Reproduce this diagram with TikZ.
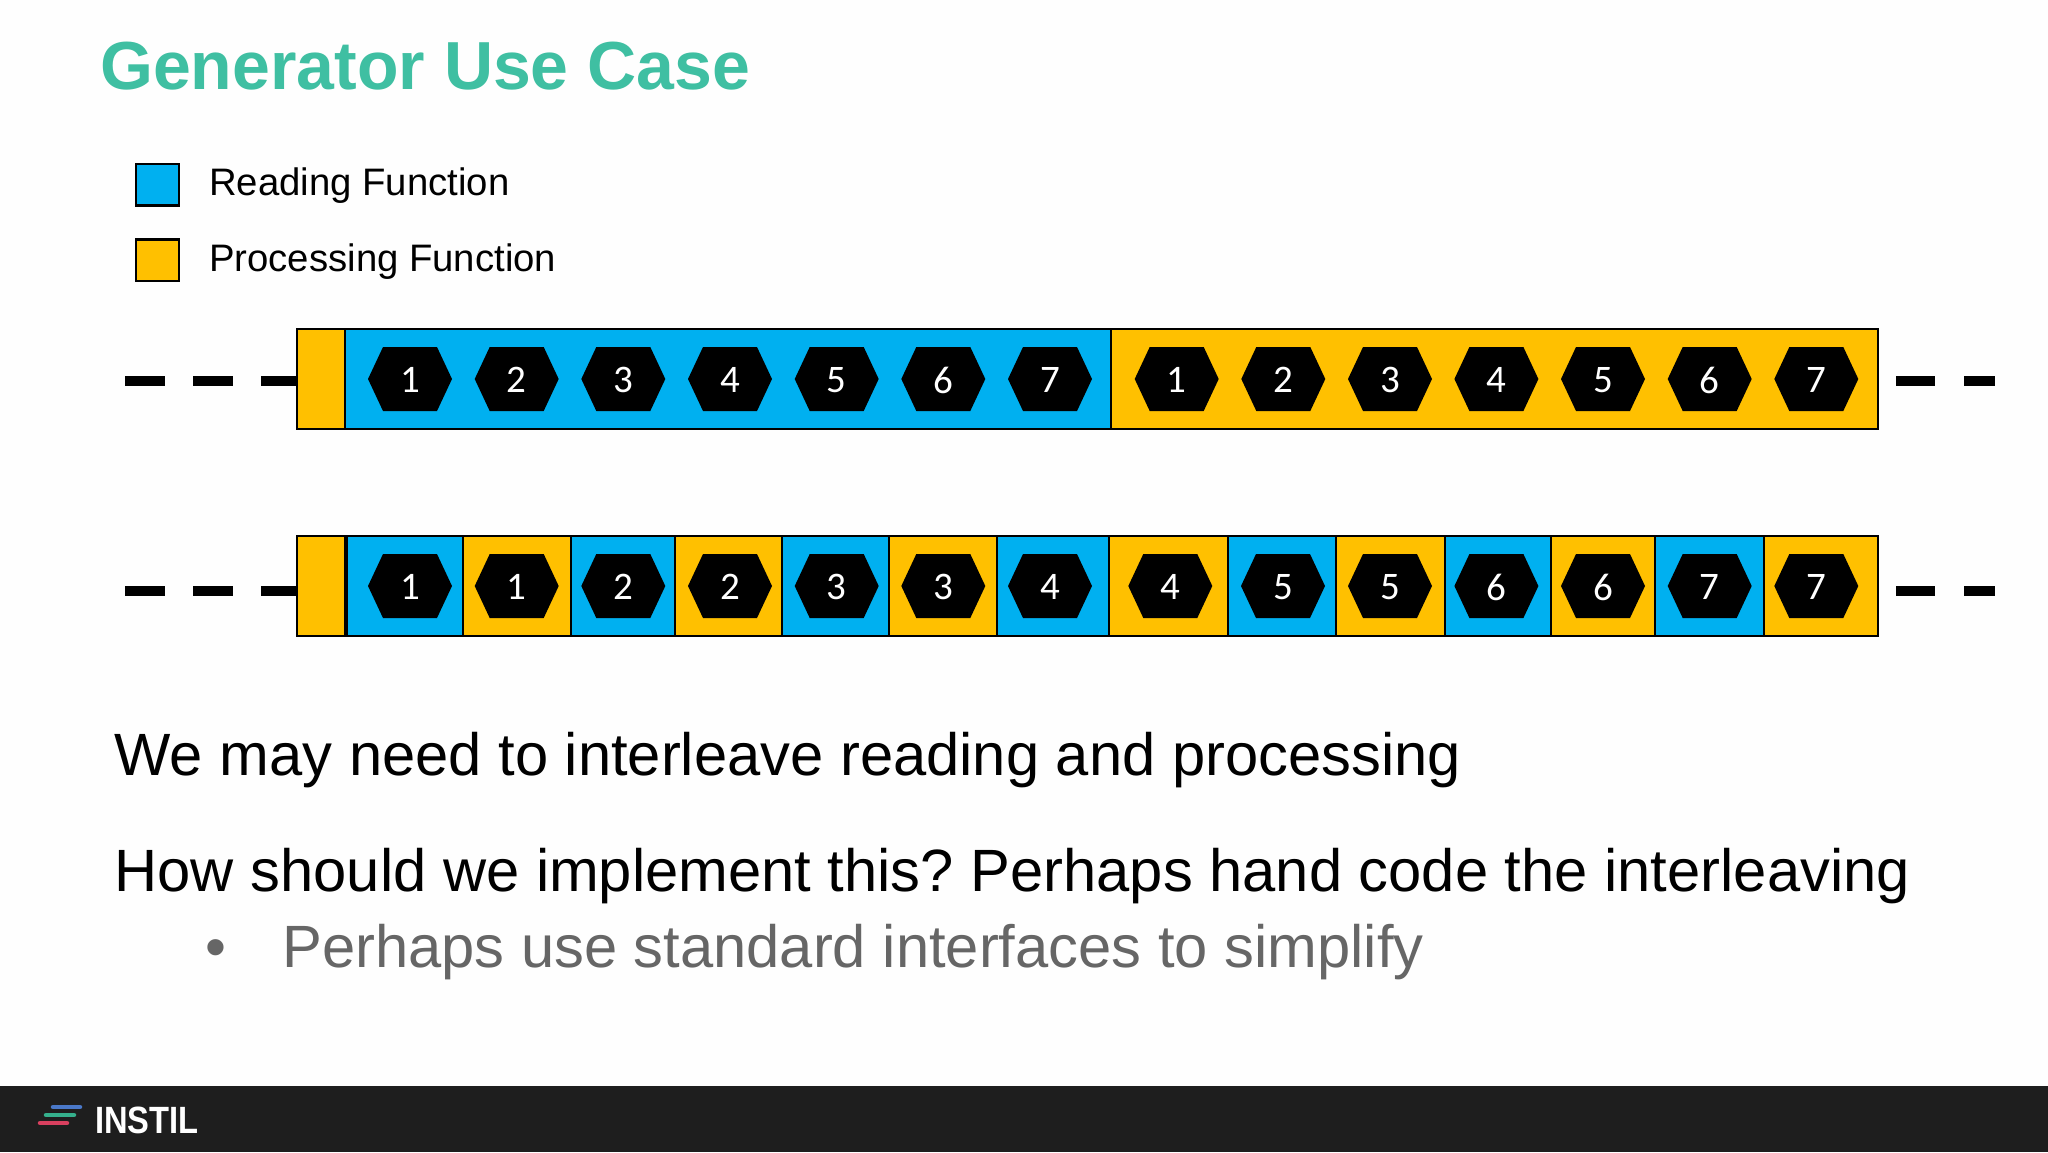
\documentclass[tikz,border=0pt]{standalone}
\usepackage{fontspec}
\setmainfont{Liberation Sans}
\newfontfamily\digitfont{Carlito}
\frenchspacing
\definecolor{rblue}{HTML}{00B0F0}
\definecolor{ryellow}{HTML}{FFC000}
\definecolor{rteal}{HTML}{3FBFA2}
\definecolor{rgrayt}{HTML}{666666}
\definecolor{rfoot}{HTML}{1E1E1E}
\definecolor{rpage}{HTML}{FEFEFE}
\definecolor{logoblue}{HTML}{4A78C8}
\definecolor{logogreen}{HTML}{35B08C}
\definecolor{logored}{HTML}{D9405F}
\tikzset{
  cell/.style={draw=black,line width=2.2pt},
  digit/.style={text=white,font=\fontsize{39}{39}\digitfont,inner sep=0pt},
  dashseg/.style={line width=10pt,draw=black},
  txt/.style={anchor=base west,inner sep=0pt},
  body/.style={txt,font=\fontsize{59.7}{60}\selectfont},
  legendtxt/.style={txt,font=\fontsize{38.3}{40}\selectfont},
  logobar/.style={line cap=round,line width=4.5pt},
}
\begin{document}
\begin{tikzpicture}[x=1pt,y=-1pt]
\useasboundingbox (0,0) rectangle (2048,1152);
\fill[rpage] (0,0) rectangle (2048,1152);
\fill[rfoot] (0,1086) rectangle (2048,1152);
\node[txt,text=rteal,font=\fontsize{68}{68}\bfseries] (title) at (100,89) {Generator Use Case};
% legend
\draw[cell,fill=rblue] (136,164) rectangle (179,205.5);
\draw[cell,fill=ryellow] (136,239.5) rectangle (179,281);
\node[legendtxt] (l1) at (209,195) {Reading Function};
\node[legendtxt] (l2) at (209,271) {Processing Function};
% top row
\draw[cell,fill=ryellow] (297,329) rectangle (345,429);
\draw[cell,fill=rblue] (345,329) rectangle (1111.3,429);
\draw[cell,fill=ryellow] (1111.3,329) rectangle (1878,429);
% bottom row
\draw[cell,fill=ryellow] (297,536) rectangle (345,636);
\foreach \a/\b/\c in {346/463/rblue,463/571/ryellow,571/675/rblue,675/782/ryellow,782/889.3/rblue,889.3/997/ryellow,997/1109.3/rblue,1109.3/1228/ryellow,1228/1336.3/rblue,1336.3/1444.7/ryellow,1444.7/1551.3/rblue,1551.3/1655.3/ryellow,1655.3/1764/rblue,1764/1878/ryellow}
  \draw[cell,fill=\c] (\a,536) rectangle (\b,636);
\draw[line width=4pt] (345.5,536) -- (345.5,636);
% hexagons
\foreach \x/\n [count=\i] in {410/1,516.7/2,623.3/3,730/4,836.7/5,943.3/6,1050/7,1176.7/1,1283.3/2,1390/3,1496.4/4,1603/5,1709.7/6,1816.3/7}{
  \fill (\x-42,379) -- (\x-27,347) -- (\x+27,347) -- (\x+42,379) -- (\x+27,411) -- (\x-27,411) -- cycle;
  \node[digit] (t\i) at (\x,380) {\n};
}
\foreach \x/\n [count=\i] in {410/1,516.7/1,623.3/2,730/2,836.7/3,943.3/3,1050/4,1170.3/4,1283/5,1390/5,1496.4/6,1603/6,1709.7/7,1816.3/7}{
  \fill (\x-42,586) -- (\x-27,554) -- (\x+27,554) -- (\x+42,586) -- (\x+27,618) -- (\x-27,618) -- cycle;
  \node[digit] (b\i) at (\x,587) {\n};
}
% dashes
\foreach \y in {381,591}{
  \draw[dashseg] (125,\y) -- (165,\y);
  \draw[dashseg] (193,\y) -- (233,\y);
  \draw[dashseg] (261,\y) -- (297,\y);
  \draw[dashseg] (1896,\y) -- (1935,\y);
  \draw[dashseg] (1964,\y) -- (1995,\y);
}
% body
\node[body] (p1) at (114.5,775) {We may need to interleave reading and processing};
\node[body] (p2) at (114.5,891) {How should we implement this? Perhaps hand code the interleaving};
\node[body,text=rgrayt] (p3b) at (205,967) {•};
\node[body,text=rgrayt] (p3) at (282,967) {Perhaps use standard interfaces to simplify};
% footer logo
\draw[logobar,draw=logoblue] (53,1107) -- (80,1107);
\draw[logobar,draw=logogreen] (46,1115) -- (74,1115);
\draw[logobar,draw=logored] (40,1123) -- (67,1123);
\node[txt,text=white,font=\fontsize{38}{38}\bfseries] (logo) at (95,1133) {\scalebox{0.86}[1]{INSTIL}};
\end{tikzpicture}
\end{document}
